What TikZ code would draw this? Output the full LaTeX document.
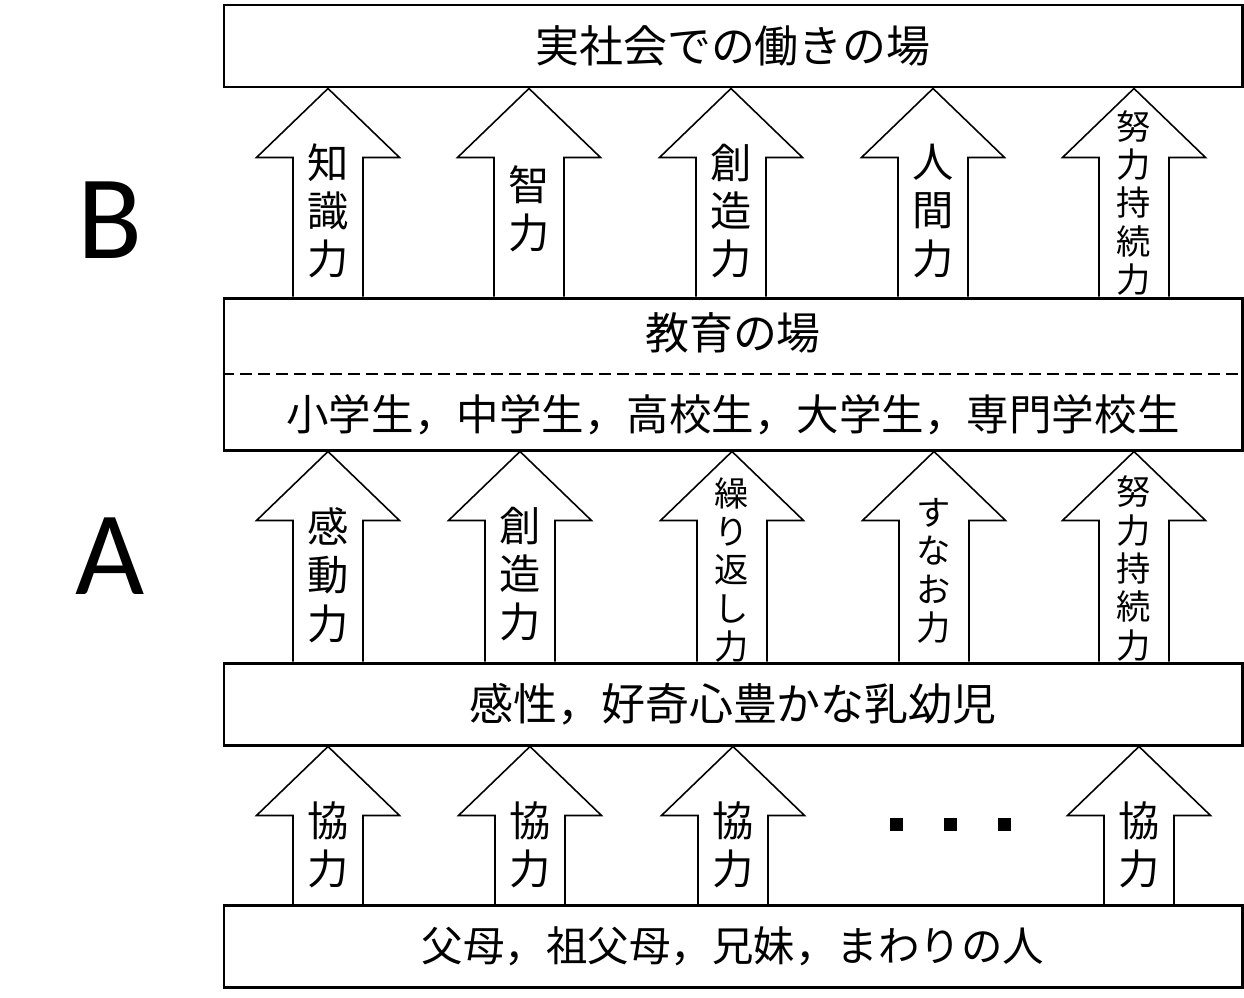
\documentclass[tikz,border=0pt]{standalone}
\usepackage{fontspec}
\setmainfont{Carlito}
\newfontfamily\jpfont{Noto Sans CJK JP}
\usetikzlibrary{
    positioning,
    calc
}
\tikzset{
    stage/.style={
        rectangle, draw, line width=1.7pt,
        minimum width=20.36cm, minimum height=1.64cm,
        inner sep=0pt, font=\jpfont\fontsize{25}{29}\selectfont
    },
    stage tall/.style={
        stage, minimum height=3.04cm
    },
    stage text/.style={
        inner sep=0pt, font=\jpfont\fontsize{24.2}{28}\selectfont
    },
    lift/.style={
        draw, line width=0.9pt, line join=miter
    },
    lift text/.style={
        inner sep=0pt, align=center,
        font=\jpfont\fontsize{23.5}{27.5}\selectfont
    },
    lift text small/.style={
        lift text, font=\jpfont\fontsize{19.5}{21.8}\selectfont
    },
    side label/.style={
        inner sep=0pt, font=\fontsize{68}{70}\selectfont
    },
    dotmark/.style={
        rectangle, fill=black, minimum size=0.26cm, inner sep=0pt
    },
}
% block arrow from the lower box up to the upper box
\newcommand{\liftarrow}[3]{%
    \draw[lift] let \p1 = (#1,0 |- #3.south), \p2 = (#1,0 |- #2.north) in
        (\x1-0.7cm,\y2) -- (\x1-0.7cm,\y1-1.38cm) -- (\x1-1.43cm,\y1-1.38cm)
        -- (\p1) -- (\x1+1.43cm,\y1-1.38cm) -- (\x1+0.7cm,\y1-1.38cm)
        -- (\x1+0.7cm,\y2);
}

\begin{document}
\begin{tikzpicture}
    \useasboundingbox (0,0) rectangle (24.88,-19.94);

    % Boxes
    \node[stage] (work) at (14.66,-0.92) {実社会での働きの場};
    \node[stage tall] (edu) at (14.66,-7.48) {};
    \node[stage text, font=\jpfont\fontsize{25}{29}\selectfont] (edutitle) at (14.66,-6.66) {教育の場};
    \node[stage text] (edulist) at (14.66,-8.3) {小学生，中学生，高校生，大学生，専門学校生};
    \draw[line width=0.85pt, dash pattern=on 6.8pt off 3.4pt] (edu.west) -- (edu.east);
    \node[stage] (kids) at (14.66,-14.08) {感性，好奇心豊かな乳幼児};
    \node[stage, font=\jpfont\fontsize{23.6}{28}\selectfont] (family) at (14.66,-18.93) {父母，祖父母，兄妹，まわりの人};

    % Side labels
    \node[side label] (labB) at (2.2,-4.4) {B};
    \node[side label] (labA) at (2.2,-11.12) {A};

    % Row B
    \liftarrow{6.56}{edu}{work}
    \liftarrow{10.58}{edu}{work}
    \liftarrow{14.62}{edu}{work}
    \liftarrow{18.66}{edu}{work}
    \liftarrow{22.68}{edu}{work}
    \node[lift text] (b1) at (6.56,-4.22) {知\\識\\力};
    \node[lift text] (b2) at (10.58,-4.18) {智\\力};
    \node[lift text] (b3) at (14.62,-4.22) {創\\造\\力};
    \node[lift text] (b4) at (18.66,-4.22) {人\\間\\力};
    \node[lift text small] (b5) at (22.68,-4.06) {努\\力\\持\\続\\力};

    % Row A
    \liftarrow{6.56}{kids}{edu}
    \liftarrow{10.40}{kids}{edu}
    \liftarrow{14.64}{kids}{edu}
    \liftarrow{18.68}{kids}{edu}
    \liftarrow{22.68}{kids}{edu}
    \node[lift text] (a1) at (6.56,-11.5) {感\\動\\力};
    \node[lift text] (a2) at (10.40,-11.48) {創\\造\\力};
    \node[lift text small] (a3) at (14.64,-11.4) {繰\\り\\返\\し\\力};
    \node[lift text small] (a4) at (18.68,-11.42) {す\\な\\お\\力};
    \node[lift text small] (a5) at (22.68,-11.37) {努\\力\\持\\続\\力};

    % Bottom row
    \liftarrow{6.56}{family}{kids}
    \liftarrow{10.60}{family}{kids}
    \liftarrow{14.66}{family}{kids}
    \liftarrow{22.78}{family}{kids}
    \node[lift text] (c1) at (6.56,-16.9) {協\\力};
    \node[lift text] (c2) at (10.60,-16.9) {協\\力};
    \node[lift text] (c3) at (14.66,-16.9) {協\\力};
    \node[lift text] (c4) at (22.78,-16.9) {協\\力};
    \node[dotmark] (dot1) at (17.92,-16.48) {};
    \node[dotmark] (dot2) at (19.00,-16.48) {};
    \node[dotmark] (dot3) at (20.08,-16.48) {};
\end{tikzpicture}
\end{document}
